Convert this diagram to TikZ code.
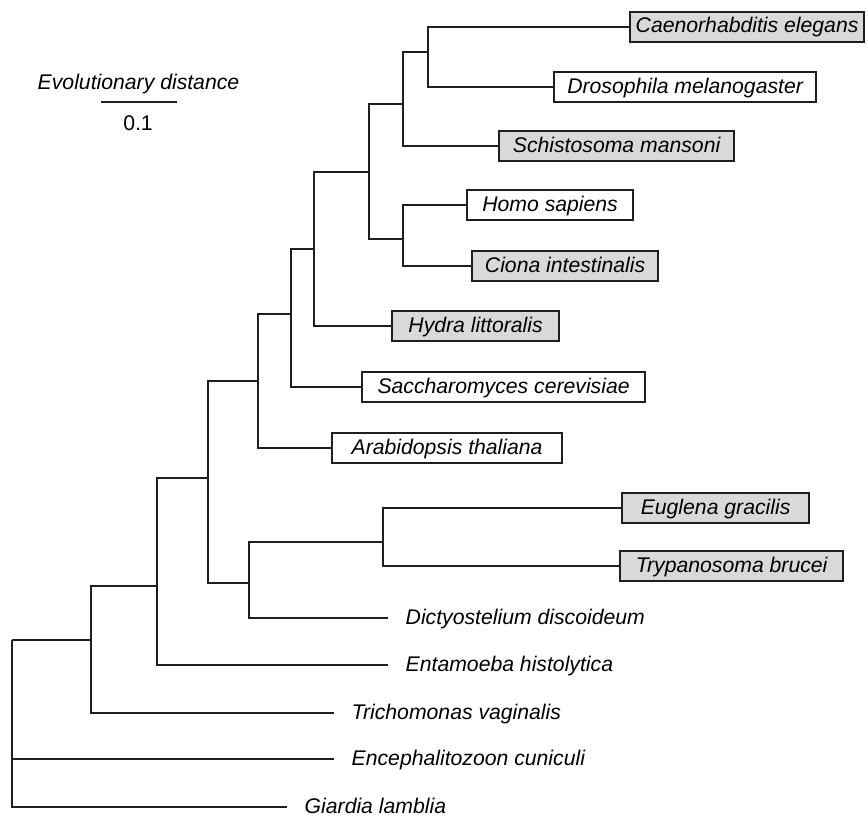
\documentclass[tikz,border=0pt]{standalone}
\usepackage{fontspec}
\setmainfont{Liberation Sans}
\begin{document}
\begin{tikzpicture}[x=1pt,y=-1pt,
  branch/.style={line width=1.7pt, draw=black!88},
  label/.style={font=\fontsize{21.2}{24}\selectfont\itshape, text height=15pt, text depth=3pt, inner ysep=0pt},
  taxon/.style={label, anchor=west},
  boxed/.style={taxon, draw=black!88, line width=2.2pt, minimum height=30pt, inner xsep=0pt, align=center},
  shaded/.style={boxed, fill=black!15},
  plain/.style={boxed, fill=white},
  bare/.style={taxon, inner xsep=17.5pt}]
\useasboundingbox (0,0) rectangle (868,816);

% scale bar
\node[label] (sclabel) at (138.5,83) {Evolutionary distance};
\coordinate (s0) at (101,102);
\coordinate (s1) at (177,102);
\draw[branch, line width=1.5pt] (s0) -- (s1);
\node[label, font=\fontsize{21.2}{24}\selectfont] (scvalue) at (138,125) {0.1};

% leaves
\node[shaded, minimum width=234pt] (caen)    at (629,27)  {Caenorhabditis elegans};
\node[plain,  minimum width=262pt] (dros)    at (553,87)  {Drosophila melanogaster};
\node[shaded, minimum width=235pt] (schisto) at (498,146) {Schistosoma mansoni};
\node[plain,  minimum width=166pt] (homo)    at (466,205) {Homo sapiens};
\node[shaded, minimum width=186pt] (ciona)   at (471,266) {Ciona intestinalis};
\node[shaded, minimum width=167pt] (hydra)   at (391,326) {Hydra littoralis};
\node[plain,  minimum width=283pt] (sacch)   at (361,387) {Saccharomyces cerevisiae};
\node[plain,  minimum width=230pt] (arab)    at (331,448) {Arabidopsis thaliana};
\node[shaded, minimum width=187pt] (eug)     at (621,508) {Euglena gracilis};
\node[shaded, minimum width=223pt] (tryp)    at (619,566) {Trypanosoma brucei};
\node[bare] (dicty)   at (388,618) {Dictyostelium discoideum};
\node[bare] (entam)   at (388,665) {Entamoeba histolytica};
\node[bare] (tricho)  at (334,713) {Trichomonas vaginalis};
\node[bare] (enceph)  at (334,759) {Encephalitozoon cuniculi};
\node[bare] (giardia) at (287,807) {Giardia lamblia};

% internal junctions
\coordinate (a) at (428,52);
\coordinate (b) at (403,104);
\coordinate (c) at (403,239);
\coordinate (d) at (369,172);
\coordinate (e) at (314,249);
\coordinate (f) at (291,314);
\coordinate (g) at (258,381);
\coordinate (i) at (383,542);
\coordinate (j) at (249,583);
\coordinate (h) at (208,478);
\coordinate (k) at (157,586);
\coordinate (l) at (91,640);
\coordinate (root) at (12,640);

% branches
\draw[branch] (a) |- (caen.west);
\draw[branch] (a) |- (dros.west);
\draw[branch] (b) |- (a);
\draw[branch] (b) |- (schisto.west);
\draw[branch] (c) |- (homo.west);
\draw[branch] (c) |- (ciona.west);
\draw[branch] (d) |- (b);
\draw[branch] (d) |- (c);
\draw[branch] (e) |- (d);
\draw[branch] (e) |- (hydra.west);
\draw[branch] (f) |- (e);
\draw[branch] (f) |- (sacch.west);
\draw[branch] (g) |- (f);
\draw[branch] (g) |- (arab.west);
\draw[branch] (i) |- (eug.west);
\draw[branch] (i) |- (tryp.west);
\draw[branch] (j) |- (i);
\draw[branch] (j) |- (dicty.west);
\draw[branch] (h) |- (g);
\draw[branch] (h) |- (j);
\draw[branch] (k) |- (h);
\draw[branch] (k) |- (entam.west);
\draw[branch] (l) |- (k);
\draw[branch] (l) |- (tricho.west);
\draw[branch] (root) |- (l);
\draw[branch] (root) |- (enceph.west);
\draw[branch] (root) |- (giardia.west);
\end{tikzpicture}
\end{document}
